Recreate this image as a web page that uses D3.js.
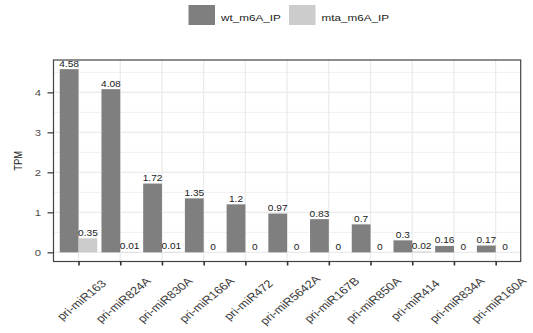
<!DOCTYPE html>
<html>
<head>
<meta charset="utf-8">
<script src="https://cdn.jsdelivr.net/npm/d3@7"></script>
<style>
  html, body { margin: 0; padding: 0; background: #fff; }
  svg { display: block; font-family: "Liberation Sans", Arial, Helvetica, sans-serif; }
</style>
</head>
<body>
<svg id="chart" width="533" height="333"></svg>
<script>
// miRNA precursors and TPM values for the two m6A IP samples
const categories = ["pri-miR163", "pri-miR824A", "pri-miR830A", "pri-miR166A", "pri-miR472",
  "pri-miR5642A", "pri-miR167B", "pri-miR850A", "pri-miR414", "pri-miR834A", "pri-miR160A"];
const wtValues  = [4.58, 4.08, 1.72, 1.35, 1.2, 0.97, 0.83, 0.7, 0.3, 0.16, 0.17];
const mtaValues = [0.35, 0.01, 0.01, 0, 0, 0, 0, 0, 0.02, 0, 0];
const seriesNames = ["wt_m6A_IP", "mta_m6A_IP"];
const seriesColors = ["#7f7f7f", "#cccccc"];
const yTicks = [0, 1, 2, 3, 4];
const yMinorTicks = [0.5, 1.5, 2.5, 3.5, 4.5];

const svg = d3.select("#chart");
const panel = { left: 53.5, right: 520.7, top: 60, bottom: 261.5 };
const TX = 1.22; // horizontal text stretch

const series = [wtValues, mtaValues];
const maxV = d3.max(series.flat());

const x = d3.scalePoint().domain(categories).range([panel.left, panel.right]).padding(0.6);
const step = x.step();
const y = d3.scaleLinear().domain([-0.05 * maxV, 1.05 * maxV]).range([panel.bottom, panel.top]);
const barW = step * 0.45;

// grid
const grid = svg.append("g");
grid.selectAll(".minor").data(yMinorTicks.filter(v => y(v) > panel.top)).join("line")
  .attr("x1", panel.left).attr("x2", panel.right)
  .attr("y1", d => y(d)).attr("y2", d => y(d))
  .attr("stroke", "#f0f0f0").attr("stroke-width", 1);
grid.selectAll(".major").data(yTicks).join("line")
  .attr("x1", panel.left).attr("x2", panel.right)
  .attr("y1", d => y(d)).attr("y2", d => y(d))
  .attr("stroke", "#ebebeb").attr("stroke-width", 1.3);
grid.selectAll(".vmajor").data(categories).join("line")
  .attr("x1", d => x(d)).attr("x2", d => x(d))
  .attr("y1", panel.top).attr("y2", panel.bottom)
  .attr("stroke", "#ebebeb").attr("stroke-width", 1.3);

// bars
const bars = [];
categories.forEach((c, i) => {
  series.forEach((s, k) => {
    bars.push({ c, k, v: s[i], x0: x(c) + (k === 0 ? -barW : 0) });
  });
});
svg.append("g").selectAll("rect").data(bars).join("rect")
  .attr("x", d => d.x0)
  .attr("width", barW)
  .attr("y", d => y(Math.max(0, d.v)))
  .attr("height", d => Math.abs(y(d.v) - y(0)))
  .attr("fill", d => seriesColors[d.k]);

// value labels
svg.append("g").selectAll("text").data(bars).join("text")
  .attr("transform", d => `translate(${d.x0 + barW / 2},${y(d.v) - 2.5}) scale(${TX},1)`)
  .attr("text-anchor", "middle")
  .attr("font-size", 8.3)
  .attr("fill", "#1a1a1a")
  .text(d => d.v);

// panel border
svg.append("rect")
  .attr("x", panel.left).attr("y", panel.top)
  .attr("width", panel.right - panel.left).attr("height", panel.bottom - panel.top)
  .attr("fill", "none").attr("stroke", "#444").attr("stroke-width", 1.2);

// y axis
const yAxis = svg.append("g").attr("transform", `translate(${panel.left},0)`)
  .call(d3.axisLeft(y).tickValues(yTicks).tickSize(6).tickPadding(0).tickFormat(d3.format("d")));
yAxis.select(".domain").remove();
yAxis.selectAll(".tick line").attr("stroke", "#333").attr("stroke-width", 1.2);
yAxis.selectAll(".tick text").remove();
yAxis.selectAll(".tick").append("text")
  .attr("transform", `translate(-12.5,3.3) scale(${TX},1)`)
  .attr("text-anchor", "end")
  .attr("font-size", 9.3)
  .attr("fill", "#4d4d4d")
  .text(d => d);

// x axis
const xAxis = svg.append("g").attr("transform", `translate(0,${panel.bottom})`)
  .call(d3.axisBottom(x).tickSize(4).tickPadding(0));
xAxis.select(".domain").remove();
xAxis.selectAll(".tick line").attr("stroke", "#333").attr("stroke-width", 1.6);
xAxis.selectAll(".tick text").remove();
xAxis.selectAll(".tick").append("text")
  .attr("transform", `translate(2.5,${38.5}) scale(${TX},1) rotate(-45)`)
  .attr("text-anchor", "middle")
  .attr("dominant-baseline", "central")
  .attr("font-size", 10.6)
  .attr("fill", "#3a3a3a")
  .text(d => d);

// y axis title
svg.append("text")
  .attr("transform", `translate(21.5,${(panel.top + panel.bottom) / 2}) scale(${TX},1) rotate(-90)`)
  .attr("text-anchor", "middle")
  .attr("font-size", 9.4)
  .attr("fill", "#1a1a1a")
  .text("TPM");

// legend
const legendPos = [188.5, 289];
const legend = svg.append("g").selectAll("g").data(seriesNames).join("g")
  .attr("transform", (d, i) => `translate(${legendPos[i]},5)`);
legend.append("rect").attr("width", 26.5).attr("height", 20)
  .attr("fill", (d, i) => seriesColors[i]);
legend.append("text")
  .attr("transform", `translate(32.5,15.7) scale(${TX},1)`)
  .attr("font-size", 9.6)
  .attr("fill", "#1a1a1a")
  .text(d => d);
</script>
</body>
</html>
